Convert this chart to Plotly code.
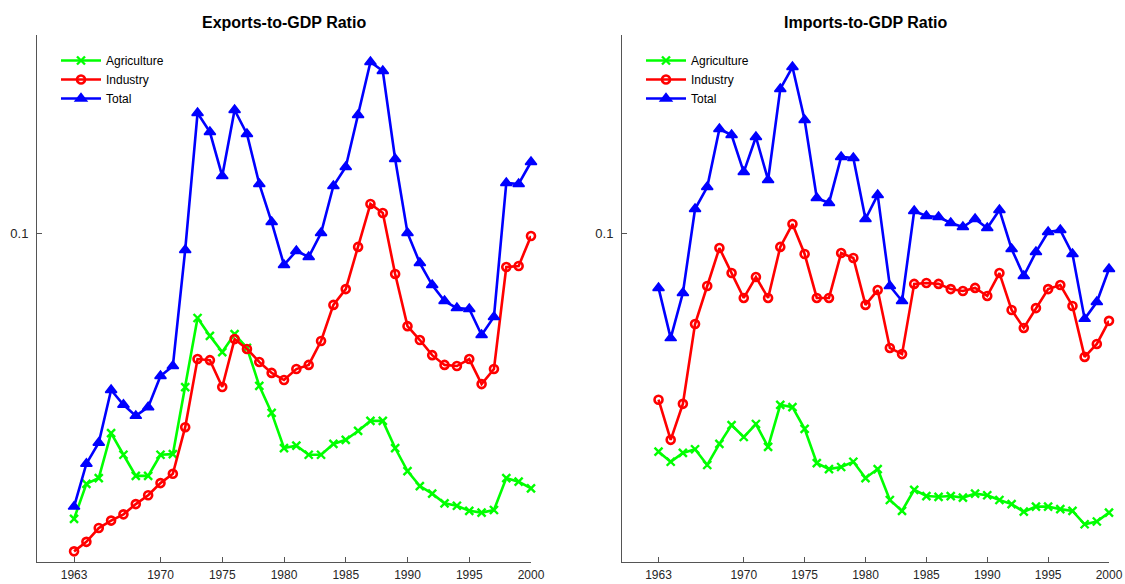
import plotly.graph_objects as go

years = list(range(1963, 2001))

exp_agri = [0.0193, 0.0236, 0.0244, 0.0316, 0.0279, 0.0247, 0.0247, 0.0279, 0.0280, 0.0412,
            0.0613, 0.0553, 0.0504, 0.0559, 0.0516, 0.0415, 0.0355, 0.0290, 0.0294, 0.0279,
            0.0279, 0.0297, 0.0304, 0.0320, 0.0339, 0.0339, 0.0290, 0.0254, 0.0233, 0.0223,
            0.0211, 0.0208, 0.0202, 0.0200, 0.0203, 0.0244, 0.0239, 0.0230]
exp_ind = [0.0160, 0.0169, 0.0183, 0.0191, 0.0198, 0.0210, 0.0221, 0.0237, 0.0250, 0.0327,
           0.0484, 0.0481, 0.0412, 0.0543, 0.0513, 0.0476, 0.0447, 0.0429, 0.0457, 0.0468,
           0.0537, 0.0661, 0.0724, 0.0923, 0.1182, 0.1122, 0.0790, 0.0585, 0.0540, 0.0495,
           0.0468, 0.0465, 0.0484, 0.0419, 0.0457, 0.0822, 0.0827, 0.0983]
exp_tot = [0.0207, 0.0265, 0.0299, 0.0405, 0.0372, 0.0349, 0.0367, 0.0439, 0.0465, 0.0907,
           0.1995, 0.1788, 0.1388, 0.2030, 0.1768, 0.1326, 0.1065, 0.0832, 0.0902, 0.0871,
           0.1000, 0.1311, 0.1462, 0.1972, 0.2676, 0.2541, 0.1531, 0.1000, 0.0841, 0.0741,
           0.0676, 0.0649, 0.0646, 0.0556, 0.0617, 0.1334, 0.1326, 0.1505]

imp_agri = [0.0284, 0.0268, 0.0282, 0.0288, 0.0263, 0.0297, 0.0331, 0.0309, 0.0333, 0.0292,
            0.0372, 0.0367, 0.0324, 0.0266, 0.0257, 0.0260, 0.0268, 0.0244, 0.0257, 0.0215,
            0.0202, 0.0228, 0.0220, 0.0219, 0.0220, 0.0218, 0.0223, 0.0221, 0.0215, 0.0210,
            0.0201, 0.0207, 0.0207, 0.0204, 0.0202, 0.0187, 0.0190, 0.0200]
imp_ind = [0.0383, 0.0304, 0.0374, 0.0592, 0.0737, 0.0917, 0.0794, 0.0688, 0.0776, 0.0688,
           0.0923, 0.1053, 0.0886, 0.0688, 0.0688, 0.0891, 0.0866, 0.0661, 0.0720, 0.0516,
           0.0498, 0.0746, 0.0750, 0.0746, 0.0724, 0.0716, 0.0729, 0.0696, 0.0794, 0.0642,
           0.0579, 0.0649, 0.0724, 0.0741, 0.0657, 0.0490, 0.0528, 0.0603]
imp_tot = [0.0729, 0.0546, 0.0708, 0.1148, 0.1303, 0.1820, 0.1758, 0.1420, 0.1738, 0.1357,
           0.2291, 0.2600, 0.1917, 0.1223, 0.1189, 0.1549, 0.1540, 0.1084, 0.1245, 0.0737,
           0.0676, 0.1135, 0.1103, 0.1096, 0.1059, 0.1035, 0.1084, 0.1029, 0.1142, 0.0912,
           0.0781, 0.0896, 0.1006, 0.1017, 0.0886, 0.0610, 0.0672, 0.0813]

series_names = ["Agriculture", "Industry", "Total"]
titles = ["Exports-to-GDP Ratio", "Imports-to-GDP Ratio"]
x_ticks = [1963, 1970, 1975, 1980, 1985, 1990, 1995, 2000]

W, H = 1125, 584
FONT = "Liberation Sans, Arial, Helvetica, sans-serif"

styles = [
    dict(color="#00FF00", symbol="x-thin", size=8, lw=2.4),
    dict(color="#FF0000", symbol="circle-open", size=8, lw=2.6),
    dict(color="#0000FF", symbol="triangle-up", size=10, lw=1.5),
]

fig = go.Figure()

panels = [
    ([exp_agri, exp_ind, exp_tot], "x", "y", "legend"),
    ([imp_agri, imp_ind, imp_tot], "x2", "y2", "legend2"),
]
for data, xa, ya, lg in panels:
    for name, vals, st in zip(series_names, data, styles):
        fig.add_trace(go.Scatter(
            x=years, y=vals, name=name, mode="lines+markers",
            xaxis=xa, yaxis=ya, legend=lg, cliponaxis=False,
            line=dict(color=st["color"], width=2.6),
            marker=dict(symbol=st["symbol"], size=st["size"], color=st["color"],
                        line=dict(color=st["color"], width=st["lw"])),
        ))

def px_x(p):
    return p / W

def px_y(p):
    return 1 - p / H

y_dom = [px_y(562), px_y(35)]
axis_common_x = dict(range=[1960, 2000], tickvals=x_ticks, ticks="inside", ticklen=5,
                     tickcolor="#555555", showline=True, linecolor="#555555", linewidth=1,
                     showgrid=False, zeroline=False, tickfont=dict(size=12, color="#262626", family=FONT),
                     automargin=False, ticklabelstandoff=2)
axis_common_y = dict(type="log", range=[-1.8225, -0.505], tickvals=[0.1], ticktext=["0.1"],
                     ticks="inside", ticklen=5, tickcolor="#555555", showline=True,
                     linecolor="#555555", linewidth=1, showgrid=False, zeroline=False,
                     tickfont=dict(size=13, color="#262626", family=FONT), automargin=False,
                     ticklabelstandoff=5)

legend_common = dict(xanchor="left", yanchor="top", bgcolor="rgba(0,0,0,0)",
                     font=dict(size=12, color="black", family=FONT),
                     tracegroupgap=0, itemwidth=40)

fig.update_layout(
    width=W, height=H,
    margin=dict(l=0, r=0, t=0, b=0),
    paper_bgcolor="white", plot_bgcolor="white",
    font=dict(family=FONT, color="#262626"),
    xaxis=dict(domain=[px_x(37), px_x(531)], anchor="y", **axis_common_x),
    yaxis=dict(domain=y_dom, anchor="x", **axis_common_y),
    xaxis2=dict(domain=[px_x(622), px_x(1109)], anchor="y2", **axis_common_x),
    yaxis2=dict(domain=y_dom, anchor="x2", **axis_common_y),
    legend=dict(x=px_x(56), y=px_y(46), **legend_common),
    legend2=dict(x=px_x(641), y=px_y(46), **legend_common),
    showlegend=True,
)

for t, cx in zip(titles, [(37 + 531) / 2, (622 + 1109) / 2]):
    fig.add_annotation(text="<b>" + t + "</b>", x=px_x(cx), y=px_y(22), xref="paper", yref="paper",
                       xanchor="center", yanchor="middle", showarrow=False,
                       font=dict(size=16, color="black", family=FONT))

fig.write_html("out.html", config={"displayModeBar": False},
               post_script="document.body.style.margin='0';document.body.style.overflow='hidden';")
